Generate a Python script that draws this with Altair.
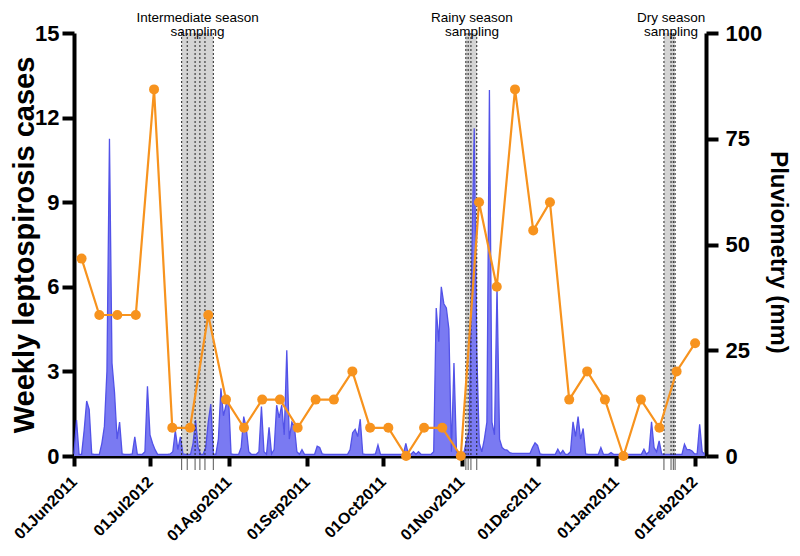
import altair as alt
import pandas as pd

# ---------------- data ----------------
# daily pluviometry (mm), day 0 = 01 Jun 2011
rain_mm = [
    0.5, 8.5, 0.4, 0.4, 6, 13, 11, 0.5, 0.4, 0.4,
    0.4, 3, 7, 20, 75, 22, 15, 4, 8, 0.5,
    0.4, 0.4, 0.4, 0.5, 4.5, 0.4, 0.4, 0.4, 1, 16.5,
    5, 3, 1.5, 0.4, 0.4, 0.4, 0.4, 0.4, 0.5, 1,
    6, 1.5, 4.5, 0.5, 0.4, 0.4, 0.4, 3, 8.5, 2,
    0.4, 0.4, 2, 8, 12.3, 0.5, 0.4, 4, 16, 9.5,
    12, 14, 0.5, 0.4, 0.4, 0.4, 2, 9.3, 6.6, 1,
    0.4, 0.4, 0.4, 1, 11.7, 1, 0.4, 6.8, 0.5, 1.5,
    12, 9, 12, 5, 25, 4, 8, 7, 1, 0.4,
    1.5, 0.4, 0.4, 0.4, 0.4, 0.4, 2.3, 2, 0.5, 0.4,
    0.4, 0.4, 0.4, 0.4, 0.4, 0.4, 0.4, 0.4, 0.4, 1.5,
    5.5, 6.3, 4.6, 8.7, 0.5, 0.4, 0.4, 0.4, 0.4, 0.5,
    2.6, 0.4, 0.4, 0.4, 0.4, 0.4, 0.4, 0.4, 0.4, 0.4,
    0.4, 3, 0.4, 0.4, 1, 0.4, 1, 0.4, 0.4, 0.4,
    0.4, 0.4, 1, 35, 27, 40, 36, 35, 30, 1,
    22, 1, 0.4, 0.4, 1, 3.8, 6, 45, 77.5, 25,
    3, 1, 4, 8, 86.5, 8, 5, 40, 4, 2,
    1.5, 1.4, 0.8, 0.6, 0.6, 0.6, 0.6, 0.6, 0.6, 0.6,
    0.6, 2, 3.1, 2.5, 0.5, 0.4, 0.4, 0.4, 0.4, 0.4,
    0.4, 1.6, 0.5, 1.3, 0.4, 0.4, 1, 8.1, 4.6, 9.3,
    4, 6.5, 0.5, 0.4, 0.4, 0.4, 0.4, 0.4, 2, 0.4,
    0.4, 0.4, 0.8, 0.4, 0.4, 0.4, 0.4, 0.4, 0.4, 0.4,
    0.4, 0.4, 0.4, 0.4, 0.4, 1.6, 0.4, 1, 8.1, 2,
    1, 3.6, 0.5, 0.4, 0.4, 0.4, 0.4, 0.4, 0.4, 0.4,
    0.4, 2.8, 1.5, 1.5, 1.2, 0.5, 0.5, 7.5, 1, 0.4,
]

# weekly leptospirosis cases (day offset of each week)
week_day = [3.0, 10.0, 17.1, 24.4, 31.6, 38.8, 45.8, 53.0, 60.0, 67.1,
            74.3, 81.3, 88.3, 95.4, 102.6, 109.9, 116.9, 124.1, 131.1, 138.2,
            145.4, 152.7, 159.9, 166.9, 174.1, 181.3, 187.9, 195.5, 202.6, 209.6,
            216.9, 223.8, 231.1, 237.9, 245.2]
cases = [7, 5, 5, 5, 13, 1, 1, 5, 2, 1,
         2, 2, 1, 2, 2, 3, 1, 1, 0, 1,
         1, 0, 9, 6, 13, 8, 9, 2, 3, 2,
         0, 2, 1, 3, 4]

tick_days = [0, 30, 61, 92, 122, 153, 183, 214, 245]
tick_labels = ["01Jun2011", "01Jul2012", "01Ago2011", "01Sep2011", "01Oct2011",
               "01Nov2011", "01Dec2011", "01Jan2011", "01Feb2012"]

left_ticks = [0, 3, 6, 9, 12, 15]
right_ticks = [0, 25, 50, 75, 100]

band_start = [42.5, 154.6, 232.9]
band_end = [55.0, 159.0, 237.3]
band_center = [48.8, 157.1, 235.7]
band_text = ["Intermediate season\nsampling", "Rainy season\nsampling", "Dry season\nsampling"]
sampling_days = [42.5, 44.7, 47.8, 49.7, 51.7, 55.0,
                 154.7, 155.6, 156.7, 159.0,
                 232.9, 235.7, 236.6, 237.3]

# ---------------- chart ----------------
W, H = 632, 423
X_MAX = 249.5
FONT = "Liberation Sans"
ORANGE = "#f7931e"

label_map = "{" + ",".join(f"'{d}':'{l}'" for d, l in zip(tick_days, tick_labels)) + "}"
x_axis = alt.Axis(values=tick_days, labelExpr=f"{label_map}[datum.value]",
                  labelAngle=-45, labelAlign="right", labelBaseline="middle",
                  labelFontSize=16, labelFontWeight="bold", labelFont=FONT,
                  labelColor="black", labelFlush=False, labelOverlap=False,
                  labelPadding=13, tickSize=10, tickWidth=4, tickColor="black",
                  domainWidth=4, domainColor="black", grid=False, title=None)


def xenc(field):
    return alt.X(f"{field}:Q", scale=alt.Scale(domain=[0, X_MAX], nice=False, zero=False),
                 axis=x_axis, title=None)


left_axis = alt.Axis(orient="left", values=left_ticks, title="Weekly leptospirosis cases",
                     titleFontSize=29, titleFontWeight="bold", titleFont=FONT, titleColor="black",
                     titleX=-50, titleY=H / 2, titleAngle=-90, titleAlign="center",
                     titleBaseline="middle",
                     labelFontSize=22, labelFontWeight="bold", labelFont=FONT, labelColor="black",
                     labelPadding=3, labelFlush=False, tickSize=12, tickWidth=4, tickColor="black",
                     domainWidth=4, domainColor="black", grid=False)
right_axis = alt.Axis(orient="right", values=right_ticks, title="Pluviometry (mm)",
                      titleFontSize=24, titleFontWeight="bold", titleFont=FONT, titleColor="black",
                      titleX=71, titleY=219, titleAngle=90, titleAlign="center",
                      titleBaseline="middle",
                      labelFontSize=22, labelFontWeight="bold", labelFont=FONT, labelColor="black",
                      labelPadding=7, labelFlush=False, tickSize=12, tickWidth=4, tickColor="black",
                      domainWidth=4, domainColor="black", grid=False)

bands_df = pd.DataFrame({"start": band_start, "end": band_end})
rain_df = pd.DataFrame({"day": list(range(len(rain_mm))), "rain": rain_mm})
cases_df = pd.DataFrame({"week": week_day, "cases": cases})
samp_df = pd.DataFrame({"day": sampling_days})
text_df = pd.DataFrame({"center": band_center, "label": band_text})

bands = alt.Chart(bands_df).mark_rect(color="#d4d4d4").encode(
    x=xenc("start"), x2="end", y=alt.value(0), y2=alt.value(H - 2))

area = alt.Chart(rain_df).mark_area(
    color="#7a7af2", opacity=1,
    line=alt.OverlayMarkDef(color="#5252e8", strokeWidth=1.3)
).encode(
    x=xenc("day"),
    y=alt.Y("rain:Q", scale=alt.Scale(domain=[0, 100], nice=False), axis=right_axis))

dotted = alt.Chart(samp_df).mark_rule(color="#222222", strokeWidth=1, strokeDash=[2, 2]).encode(
    x=xenc("day"), y=alt.value(0), y2=alt.value(H))

below = alt.Chart(samp_df).mark_rule(color="#555555", strokeWidth=1).encode(
    x=xenc("day"), y=alt.value(H + 2), y2=alt.value(H + 14))

line = alt.Chart(cases_df).mark_line(
    color=ORANGE, strokeWidth=2.2,
    point=alt.OverlayMarkDef(color=ORANGE, size=100, filled=True, opacity=1)
).encode(
    x=xenc("week"),
    y=alt.Y("cases:Q", scale=alt.Scale(domain=[0, 15], nice=False), axis=left_axis))

labels = alt.Chart(text_df).mark_text(
    lineBreak="\n", fontSize=13.5, font=FONT, baseline="top", align="center",
    lineHeight=14, color="black"
).encode(x=xenc("center"), y=alt.value(-22), text="label:N")

chart = alt.layer(bands, area, dotted, below, line, labels).resolve_scale(
    y="independent"
).properties(
    width=W, height=H,
    autosize=alt.AutoSizeParams(type="none"),
    padding={"left": 66, "top": 25, "right": 86, "bottom": 92},
).configure_view(stroke=None)

chart.save("out.html", embed_options={"renderer": "svg", "actions": False})
